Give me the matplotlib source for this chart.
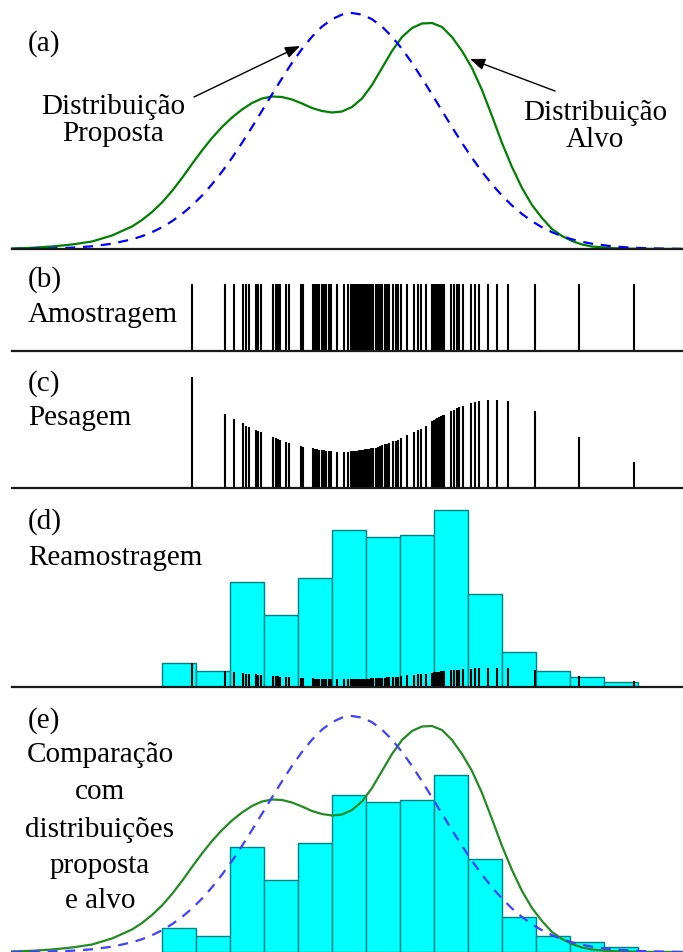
import matplotlib
matplotlib.use("Agg")
import matplotlib.pyplot as plt
import numpy as np

plt.rcParams['font.family'] = ['Liberation Serif', 'DejaVu Serif']

# curve points (x in panel units, height above the baseline)
curve_x = [12, 32, 52, 72, 92, 112, 132, 142, 152, 162, 172, 182, 192, 202, 212, 222,
           232, 242, 252, 262, 272, 282, 292, 302, 312, 322, 332, 342, 352, 362, 372,
           382, 392, 402, 412, 422, 432, 442, 452, 462, 472, 482, 492, 502, 512, 522,
           532, 542, 552, 562, 572, 582, 592, 612, 632, 652, 683]
target = [0.5, 1.2, 2.5, 4.5, 7.5, 13.5, 22.5, 29, 37, 46.5, 58, 71, 85, 98.5, 111, 122,
          131.5, 139.5, 146, 150.5, 152.5, 152, 149.5, 145.5, 141, 138, 136.5, 137.5, 142, 150.5, 164,
          181, 198, 212, 221, 225.5, 226, 222, 212, 198, 181, 159, 133, 106, 82, 61,
          44, 31, 20, 13, 8, 4.5, 2.5, 0.8, 0.3, 0.1, 0]
proposal = [0.1, 0.3, 0.6, 1.3, 2.7, 5.3, 9.7, 12.8, 16.8, 21.7, 27.8, 35.0, 43.5, 53.4, 64.7, 77.3,
            91.1, 106.1, 121.9, 138.2, 154.6, 170.7, 186.1, 200.1, 212.3, 222.4, 229.8, 234.4, 236, 234.4, 229.8,
            222.4, 212.3, 200.1, 186.1, 170.7, 154.6, 138.2, 121.9, 106.1, 91.1, 77.3, 64.7, 53.4, 43.5, 35.0,
            27.8, 21.7, 16.8, 12.8, 9.7, 7.2, 5.3, 2.7, 1.3, 0.6, 0.1]

# drawn samples and their weights
samples = [191.7, 225.3, 233.7, 242.7, 246.0, 249.3, 256.0, 258.3, 260.7, 273.3, 275.5,
           277.5, 280.0, 286.3, 288.7, 300.7, 303.3, 312.7, 314.7, 317.0, 319.0, 321.7,
           324.0, 326.3, 329.0, 331.0, 336.7, 344.3, 348.3, 350.7, 353.3, 355.3, 357.0,
           359.0, 361.0, 363.0, 365.0, 367.0, 369.3, 371.0, 373.3, 375.5, 378.0, 380.0,
           382.3, 384.7, 387.0, 389.0, 393.3, 395.7, 398.0, 401.3, 407.3, 414.0, 418.3,
           420.7, 426.3, 431.7, 433.7, 435.5, 437.3, 439.0, 441.0, 442.7, 444.3, 450.7,
           454.3, 456.7, 459.3, 462.7, 470.7, 475.0, 479.0, 487.7, 496.7, 507.7, 535.0,
           579.3, 633.7]
weights = [111, 74, 69, 64.7, 62.5, 61.3, 58.0, 57.2, 56.5, 50.7, 50.0,
           49.3, 48.5, 46.0, 45.3, 42.0, 41.5, 39.7, 39.3, 39.0, 38.5, 38.0,
           37.6, 37.3, 37.0, 36.8, 36.3, 36.3, 36.5, 36.6, 37.0, 37.3, 37.5,
           37.8, 38.1, 38.4, 38.7, 39.0, 39.3, 39.6, 40.0, 40.4, 41.3, 42.0,
           42.7, 43.7, 44.5, 45.3, 46.7, 47.5, 48.5, 50.5, 53.3, 56.5, 58.5,
           59.5, 62.5, 67.0, 68.0, 69.0, 70.0, 71.0, 72.0, 72.7, 73.3, 76.7,
           78.3, 79.7, 80.7, 81.7, 84.7, 85.7, 86.7, 88.0, 88.0, 86.7, 76.7,
           50.7, 25.7]

# resampled histogram
bin_left = [162, 196, 230, 264, 298, 332, 366, 400, 434, 468, 502, 536, 570, 604]
bin_width = 34
counts = [24, 15.6, 105, 72, 109, 157, 150, 152, 177, 93, 34.6, 15.6, 10.3, 5.3]

W, H = 683, 953
fig = plt.figure(figsize=(6.83, 9.53), dpi=100)


def panel(top, bottom):
    ax = fig.add_axes([0, 1 - bottom / H, 1, (bottom - top) / H])
    ax.set_xlim(0, W)
    ax.set_ylim(0, bottom - top)
    ax.axis('off')
    return ax


def baseline(ax):
    ax.plot([12, W], [0, 0], color='#1a1a1a', lw=1.6, clip_on=False, zorder=5)


def label(x, y, s, ha='left'):
    fig.text(x / W, 1 - y / H, s, ha=ha, va='baseline', fontsize=21)


ax_a = panel(0, 250)
ax_b = panel(250, 352)
ax_c = panel(352, 489)
ax_d = panel(489, 688)
ax_e = panel(688, 953)

# (a)
ax_a.plot(curve_x, target, color='green', lw=1.6)
ax_a.plot(curve_x, proposal, color='blue', lw=1.6, dashes=(4.5, 3.5))
baseline(ax_a)

# (b)
ax_b.vlines(samples, 0, 67, color='black', lw=1.5)
baseline(ax_b)

# (c)
ax_c.vlines(samples, 0, weights, color='black', lw=1.5)
baseline(ax_c)

# (d)
ax_d.bar(bin_left, counts, width=bin_width, align='edge', color='cyan',
         edgecolor='#008080', lw=1)
ax_d.vlines(samples, 0, np.array(weights) * 0.216, color='black', lw=1.5)
baseline(ax_d)

# (e)
ax_e.bar(bin_left, counts, width=bin_width, align='edge', color='cyan',
         edgecolor='#008080', lw=1)
ax_e.plot(curve_x, target, color='forestgreen', lw=1.6)
ax_e.plot(curve_x, proposal, color='#4040ff', lw=1.6, dashes=(4.5, 3.5))

# texts
label(28, 51, '(a)')
label(113, 114, 'Distribuição', 'center')
label(113, 141, 'Proposta', 'center')
label(595, 120, 'Distribuição', 'center')
label(595, 147, 'Alvo', 'center')
arrow = dict(arrowstyle='-|>,head_length=0.9,head_width=0.35', color='black',
             lw=1, mutation_scale=10, shrinkA=0, shrinkB=0)
ax_a.annotate('', xy=(300, H - 47), xytext=(194, H - 98), xycoords='figure pixels',
              textcoords='figure pixels', arrowprops=arrow)
ax_a.annotate('', xy=(470, H - 60), xytext=(555, H - 92), xycoords='figure pixels',
              textcoords='figure pixels', arrowprops=arrow)

label(28, 287, '(b)')
label(28, 322, 'Amostragem')
label(28, 391, '(c)')
label(28, 425, 'Pesagem')
label(28, 529, '(d)')
label(28, 565, 'Reamostragem')
label(28, 728, '(e)')
label(100, 762, 'Comparação', 'center')
label(100, 799, 'com', 'center')
label(100, 837, 'distribuições', 'center')
label(100, 873, 'proposta', 'center')
label(100, 908, 'e alvo', 'center')

fig.savefig('out.png', dpi=100)
